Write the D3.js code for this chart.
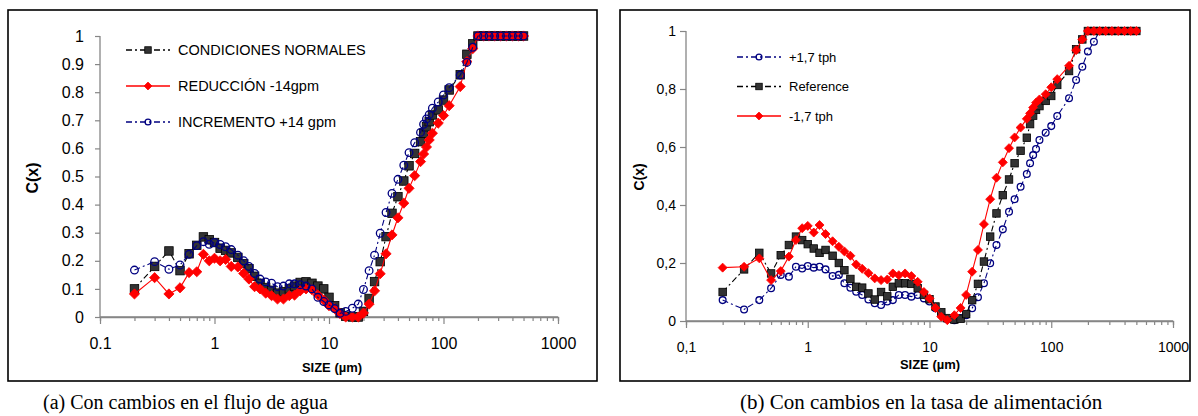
<!DOCTYPE html>
<html lang="es">
<head>
<meta charset="UTF-8">
<title>C(x) vs SIZE</title>
<script src="https://d3js.org/d3.v7.min.js"></script>
<style>
  body { margin: 0; background: #fff; }
  svg { display: block; font-family: "Liberation Sans", Arial, sans-serif; }
</style>
</head>
<body>
<svg width="1198" height="416"></svg>
<script>
// particle sizes (µm), same grid for every curve
const sizes = [0.2, 0.3, 0.4, 0.5, 0.6, 0.7, 0.8, 0.9,
  1.0, 1.12, 1.25, 1.4, 1.6, 1.8, 2.0, 2.24, 2.5, 2.8,
  3.15, 3.55, 4.0, 4.5, 5.0, 5.6, 6.3, 7.1, 8.0, 9.0,
  10, 11.2, 12.5, 14, 16, 18, 20, 22.4, 25, 28,
  31.5, 35.5, 40, 45, 50, 56,
  63, 67, 71, 75, 80, 90, 100, 112, 140, 160, 180,
  200, 224, 250, 280, 315, 355, 400, 450, 500];

// (a) flujo de agua
const normalA = [0.10, 0.18, 0.235, 0.165, 0.225, 0.255, 0.285, 0.275,
  0.265, 0.245, 0.237, 0.228, 0.212, 0.19, 0.172, 0.145, 0.12, 0.105,
  0.095, 0.085, 0.09, 0.10, 0.11, 0.123, 0.125, 0.12, 0.11, 0.10,
  0.07, 0.04, 0.015, 0.003, 0.0, 0.0, 0.02, 0.066, 0.126, 0.197,
  0.286, 0.369, 0.428, 0.484, 0.538, 0.582,
  0.624, 0.654, 0.677, 0.695, 0.719, 0.737, 0.772, 0.808, 0.862, 0.935, 0.972,
  1, 1, 1, 1, 1, 1, 1, 1, 1];
const reduccionA = [0.082, 0.14, 0.082, 0.104, 0.158, 0.161, 0.223, 0.20,
  0.209, 0.20, 0.205, 0.18, 0.178, 0.155, 0.135, 0.108, 0.10, 0.085,
  0.076, 0.064, 0.064, 0.076, 0.078, 0.093, 0.10, 0.097, 0.078, 0.06,
  0.04, 0.03, 0.012, 0.0, 0.0, 0.0, 0.014, 0.046, 0.093, 0.154,
  0.225, 0.292, 0.353, 0.405, 0.458, 0.503,
  0.553, 0.58, 0.605, 0.63, 0.654, 0.69, 0.717, 0.752, 0.82, 0.909, 0.955,
  1, 1, 1, 1, 1, 1, 1, 1, 1];
const incrementoA = [0.167, 0.197, 0.17, 0.185, 0.223, 0.254, 0.268, 0.259,
  0.265, 0.258, 0.25, 0.24, 0.22, 0.20, 0.18, 0.155, 0.135, 0.125,
  0.12, 0.108, 0.11, 0.118, 0.118, 0.115, 0.11, 0.10, 0.07, 0.055,
  0.043, 0.03, 0.013, 0.02, 0.031, 0.046, 0.098, 0.165, 0.22, 0.298,
  0.372, 0.44, 0.49, 0.54, 0.585, 0.62,
  0.657, 0.686, 0.705, 0.72, 0.743, 0.765, 0.79, 0.816, 0.861, 0.906, 0.96,
  1, 1, 1, 1, 1, 1, 1, 1, 1];

// (b) tasa de alimentación
const plusB = [0.072, 0.04, 0.072, 0.113, 0.159, 0.153, 0.187, 0.181,
  0.19, 0.184, 0.187, 0.178, 0.155, 0.159, 0.13, 0.115, 0.101, 0.09,
  0.074, 0.061, 0.055, 0.067, 0.072, 0.09, 0.09, 0.084, 0.09, 0.078,
  0.067, 0.044, 0.027, 0.006, 0.003, 0.01, 0.02, 0.044, 0.082, 0.13,
  0.199, 0.262, 0.316, 0.377, 0.42, 0.463,
  0.507, 0.544, 0.572, 0.593, 0.624, 0.649, 0.672, 0.707, 0.768, 0.831, 0.877,
  0.929, 0.963, 1, 1, 1, 1, 1, 1, 1];
const referenceB = [0.10, 0.178, 0.235, 0.164, 0.227, 0.262, 0.291, 0.279,
  0.265, 0.25, 0.235, 0.245, 0.225, 0.20, 0.175, 0.145, 0.118, 0.115,
  0.095, 0.074, 0.10, 0.085, 0.118, 0.13, 0.13, 0.128, 0.113, 0.09,
  0.075, 0.05, 0.03, 0.01, 0.005, 0.008, 0.024, 0.072, 0.128, 0.205,
  0.291, 0.371, 0.434, 0.488, 0.544, 0.587,
  0.632, 0.679, 0.708, 0.728, 0.741, 0.759, 0.776, 0.814, 0.862, 0.937, 0.971,
  1, 1, 1, 1, 1, 1, 1, 1, 1];
const minusB = [0.184, 0.187, 0.216, 0.141, 0.172, 0.222, 0.279, 0.32,
  0.328, 0.305, 0.331, 0.30, 0.275, 0.256, 0.24, 0.225, 0.195, 0.18,
  0.165, 0.147, 0.141, 0.143, 0.164, 0.158, 0.164, 0.155, 0.135, 0.10,
  0.078, 0.045, 0.015, 0.003, 0.02, 0.045, 0.09, 0.17, 0.245, 0.334,
  0.42, 0.494, 0.547, 0.596, 0.633, 0.667,
  0.697, 0.716, 0.736, 0.753, 0.764, 0.782, 0.806, 0.834, 0.88, 0.934, 0.971,
  1, 1, 1, 1, 1, 1, 1, 1, 1];

const xTicks = [0.1, 1, 10, 100, 1000];
const yTicksA = [0, 0.1, 0.2, 0.3, 0.4, 0.5, 0.6, 0.7, 0.8, 0.9, 1];
const yTicksB = [0, 0.2, 0.4, 0.6, 0.8, 1];
const captionA = "(a) Con cambios en el flujo de agua";
const captionB = "(b) Con cambios en la tasa de alimentación";

const svg = d3.select("svg");
const axisGrey = "#868686";

// minor ticks 0.2..0.9, 2..9 ... for each decade
const minorTicks = [];
[0.1, 1, 10, 100].forEach(d => { for (let k = 2; k <= 9; k++) minorTicks.push(d * k); });

function drawMarker(g, kind, x, y, s) {
    if (kind === "square") {
        g.append("rect").attr("x", x - s / 2).attr("y", y - s / 2)
            .attr("width", s).attr("height", s)
            .attr("fill", "#333").attr("stroke", "#000").attr("stroke-width", 0.8);
    } else if (kind === "diamond") {
        const h = s * 0.6;
        g.append("path")
            .attr("d", `M${x},${y - h}L${x + h},${y}L${x},${y + h}L${x - h},${y}Z`)
            .attr("fill", "#ff0000").attr("stroke", "#ff0000").attr("stroke-width", 0.8);
    } else {
        g.append("circle").attr("cx", x).attr("cy", y).attr("r", s * 0.45)
            .attr("fill", "none").attr("stroke", "#000080").attr("stroke-width", 1.3);
    }
}

function drawPanel(p) {
    const x = d3.scaleLog().domain([0.1, 1000]).range([p.x0, p.x1]);
    const y = d3.scaleLinear().domain([0, 1]).range([p.y0, p.y1]);
    const g = svg.append("g");

    // frame
    g.append("rect").attr("x", p.frame[0]).attr("y", p.frame[1])
        .attr("width", p.frame[2]).attr("height", p.frame[3])
        .attr("fill", "none").attr("stroke", "#000").attr("stroke-width", 1.6);

    // axes
    const ay = g.append("g").attr("transform", `translate(${p.x0},0)`)
        .call(d3.axisLeft(y).tickValues(p.yTicks).tickSize(p.yTickLen).tickPadding(p.yPad)
            .tickFormat(d => d === 0 ? "0" : d === 1 ? "1" : d.toFixed(1).replace(".", p.dec)));
    const axMinor = g.append("g").attr("transform", `translate(0,${p.y0})`)
        .call(d3.axisBottom(x).tickValues(minorTicks).tickSize(4).tickFormat(""));
    const ax = g.append("g").attr("transform", `translate(0,${p.y0})`)
        .call(d3.axisBottom(x).tickValues(xTicks).tickSize(7).tickPadding(p.xPad)
            .tickFormat(d => String(d).replace(".", p.dec)));
    [ay, ax, axMinor].forEach(a => {
        a.selectAll("path").attr("stroke", axisGrey).attr("stroke-width", 1.3);
        a.selectAll("line").attr("stroke", axisGrey).attr("stroke-width", 1.2);
        a.selectAll("text").attr("font-size", p.tickFont).attr("fill", "#000")
            .attr("font-family", "Liberation Sans, Arial, sans-serif");
    });
    ax.select(".domain").attr("d", `M${p.x0},0H${p.x1}`);
    ay.select(".domain").attr("d", `M0,${p.y0}V${p.y1}`);

    // titles
    g.append("text").attr("transform", `translate(${p.cxX},${p.cxY}) rotate(-90)`)
        .attr("text-anchor", "middle").attr("dy", "0.35em")
        .attr("font-weight", "bold").attr("font-size", p.cxFont).text("C(x)");
    g.append("text").attr("x", p.sizeX).attr("y", p.sizeY)
        .attr("text-anchor", "middle").attr("font-weight", "bold")
        .attr("font-size", 13).text("SIZE (µm)");

    // curves
    const line = d3.line().x((d, i) => x(sizes[i])).y(d => y(d));
    p.series.forEach(s => {
        g.append("path").datum(s.values).attr("d", line)
            .attr("fill", "none").attr("stroke", s.color).attr("stroke-width", 1.1)
            .attr("stroke-dasharray", s.dash);
        const mg = g.append("g");
        s.values.forEach((v, i) => drawMarker(mg, s.marker, x(sizes[i]), y(v), p.mSize));
    });

    // legend
    p.legend.forEach((s, k) => {
        const ly = p.legY + k * p.legStep;
        g.append("line").attr("x1", p.legX).attr("x2", p.legX + 44)
            .attr("y1", ly).attr("y2", ly)
            .attr("stroke", s.color).attr("stroke-width", 1.5).attr("stroke-dasharray", s.dash);
        drawMarker(g, s.marker, p.legX + 22, ly, 6.5);
        g.append("text").attr("x", p.legX + 52).attr("y", ly).attr("dy", "0.35em")
            .attr("font-size", p.legFont).text(s.name);
    });

    // caption
    svg.append("text").attr("x", p.capX).attr("y", 409)
        .attr("font-family", "Liberation Serif, 'Times New Roman', serif")
        .attr("font-size", p.capFont).text(p.caption);
}

const dashDot = "6,3,2,3";
const sNormal = { name: "CONDICIONES NORMALES", values: normalA, color: "#000", dash: dashDot, marker: "square" };
const sRed = { name: "REDUCCIÓN -14gpm", values: reduccionA, color: "#ff0000", dash: null, marker: "diamond" };
const sBlue = { name: "INCREMENTO +14 gpm", values: incrementoA, color: "#000080", dash: dashDot, marker: "circle" };

drawPanel({
    frame: [8, 10, 589, 371], x0: 100, x1: 558, y0: 317, y1: 36,
    yTicks: yTicksA, yTickLen: 5, yPad: 11, xPad: 14, dec: ".", tickFont: 16,
    cxX: 32, cxY: 178, cxFont: 16, sizeX: 332, sizeY: 372, mSize: 8.5,
    series: [sNormal, sRed, sBlue], legend: [sNormal, sRed, sBlue],
    legX: 126, legY: 50, legStep: 36, legFont: 14.5,
    caption: captionA, capX: 43, capFont: 20
});

const bPlus = { name: "+1,7 tph", values: plusB, color: "#000080", dash: dashDot, marker: "circle" };
const bRef = { name: "Reference", values: referenceB, color: "#000", dash: dashDot, marker: "square" };
const bMinus = { name: "-1,7 tph", values: minusB, color: "#ff0000", dash: null, marker: "diamond" };

drawPanel({
    frame: [620, 10, 570, 371], x0: 686, x1: 1173, y0: 321, y1: 31,
    yTicks: yTicksB, yTickLen: 6, yPad: 4, xPad: 14, dec: ",", tickFont: 14,
    cxX: 639, cxY: 177, cxFont: 14, sizeX: 930, sizeY: 369, mSize: 7.5,
    series: [bPlus, bRef, bMinus], legend: [bPlus, bRef, bMinus],
    legX: 737, legY: 57, legStep: 29.5, legFont: 13,
    caption: captionB, capX: 740, capFont: 21
});
</script>
</body>
</html>
